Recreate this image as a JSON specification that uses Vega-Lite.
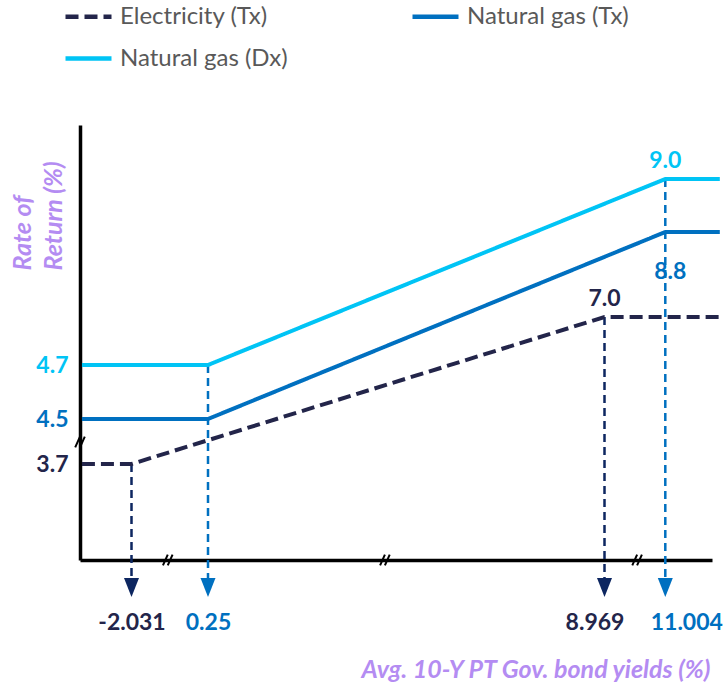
{
  "$schema": "https://vega.github.io/schema/vega-lite/v6.json",
  "width": 640,
  "height": 435,
  "autosize": {"type": "none"},
  "padding": {"left": 80, "top": 125, "right": 3, "bottom": 123},
  "background": "white",
  "datasets": {
    "lines": [
      {"series": "Electricity (Tx)", "x": -3.06, "y": 3.7, "o": 1},
      {"series": "Electricity (Tx)", "x": -2.031, "y": 3.7, "o": 2},
      {"series": "Electricity (Tx)", "x": 8.969, "y": 7.0, "o": 3},
      {"series": "Electricity (Tx)", "x": 12.05, "y": 7.0, "o": 4},
      {"series": "Natural gas (Tx)", "x": -3.06, "y": 4.5, "o": 1},
      {"series": "Natural gas (Tx)", "x": 0.25, "y": 4.5, "o": 2},
      {"series": "Natural gas (Tx)", "x": 11.004, "y": 8.8, "o": 3},
      {"series": "Natural gas (Tx)", "x": 12.05, "y": 8.8, "o": 4},
      {"series": "Natural gas (Dx)", "x": -3.06, "y": 4.7, "o": 1},
      {"series": "Natural gas (Dx)", "x": 0.25, "y": 4.7, "o": 2},
      {"series": "Natural gas (Dx)", "x": 11.004, "y": 9.0, "o": 3},
      {"series": "Natural gas (Dx)", "x": 12.05, "y": 9.0, "o": 4}
    ],
    "drops": [
      {"kind": "elec", "x": -2.031, "y": 3.7, "y2": 2.86, "tip": 2.8},
      {"kind": "gas", "x": 0.25, "y": 4.7, "y2": 2.86, "tip": 2.8},
      {"kind": "elec", "x": 8.969, "y": 7.0, "y2": 2.86, "tip": 2.8},
      {"kind": "gas", "x": 11.004, "y": 9.0, "y2": 2.86, "tip": 2.8}
    ],
    "labels": [
      {"series": "Natural gas (Dx)", "x": 11.004, "y": 9.0, "label": "9.0", "pos": "above"},
      {"series": "Electricity (Tx)", "x": 8.969, "y": 7.0, "label": "7.0", "pos": "above"},
      {"series": "Natural gas (Tx)", "x": 11.004, "y": 8.8, "label": "8.8", "pos": "below"}
    ],
    "breaks": [
      {"x": -0.95, "y": 3.0},
      {"x": 4.14, "y": 3.0},
      {"x": 10.06, "y": 3.0},
      {"x": -3.1, "y": 4.09}
    ]
  },
  "encoding": {
    "x": {
      "field": "x",
      "type": "quantitative",
      "scale": {
        "domain": [-3.1, -2.031, 0.25, 8.969, 11.004, 11.9],
        "range": [0, 51.5, 128, 524.5, 585.3, 632],
        "nice": false,
        "zero": false
      },
      "axis": {
        "values": [-2.031, 0.25, 8.969, 11.004],
        "labelExpr": "'' + datum.value",
        "labelOverlap": false,
        "labelBound": false,
        "grid": false,
        "ticks": false,
        "tickSize": 0,
        "domainColor": "black",
        "domainWidth": 3.5,
        "labelPadding": 51,
        "labelFont": "Lato",
        "labelFontSize": 23,
        "labelFontWeight": "bold",
        "labelOffset": {
          "condition": [
            {"test": "datum.value == 8.969", "value": -10},
            {"test": "datum.value == 11.004", "value": 21}
          ],
          "value": 0
        },
        "labelColor": {
          "condition": {"test": "datum.value == 0.25 || datum.value == 11.004", "value": "#0070c0"},
          "value": "#23254a"
        },
        "title": "Avg. 10-Y PT Gov. bond yields (%)",
        "titleFont": "Lato",
        "titleFontSize": 25,
        "titleFontWeight": "bold",
        "titleFontStyle": "italic",
        "titleColor": "#b48cf2",
        "titleX": 630,
        "titleY": 109,
        "titleAlign": "right",
        "titleBaseline": "middle"
      }
    },
    "y": {
      "field": "y",
      "type": "quantitative",
      "scale": {
        "domain": [3.0, 3.7, 4.5, 4.7, 7.0, 8.8, 9.0, 9.6],
        "range": [435, 339, 294, 240, 192, 107, 54, 0],
        "nice": false,
        "zero": false
      },
      "axis": {
        "values": [3.7, 4.5, 4.7],
        "labelExpr": "'' + datum.value",
        "labelOverlap": false,
        "grid": false,
        "ticks": false,
        "tickSize": 0,
        "domainColor": "black",
        "domainWidth": 3.5,
        "labelPadding": 12,
        "labelFont": "Lato",
        "labelFontSize": 23,
        "labelFontWeight": "bold",
        "labelColor": {
          "condition": [
            {"test": "datum.value == 4.7", "value": "#00c4f5"},
            {"test": "datum.value == 4.5", "value": "#0070c0"}
          ],
          "value": "#23254a"
        },
        "title": ["Rate of", "Return (%)"],
        "titleFont": "Lato",
        "titleFontSize": 25,
        "titleFontWeight": "bold",
        "titleFontStyle": "italic",
        "titleColor": "#b48cf2",
        "titleAngle": 270,
        "titleAlign": "left",
        "titleBaseline": "middle",
        "titleLineHeight": 31,
        "titleX": -58,
        "titleY": 145
      }
    }
  },
  "layer": [
    {
      "data": {"name": "drops"},
      "transform": [{"filter": "datum.kind == 'elec'"}],
      "mark": {"type": "rule", "color": "#0d2660", "strokeWidth": 2.5, "strokeDash": [8, 5]},
      "encoding": {"y2": {"field": "y2"}}
    },
    {
      "data": {"name": "drops"},
      "transform": [{"filter": "datum.kind == 'gas'"}],
      "mark": {"type": "rule", "color": "#0070c0", "strokeWidth": 2.5, "strokeDash": [8, 5]},
      "encoding": {"y2": {"field": "y2"}}
    },
    {
      "data": {"name": "drops"},
      "transform": [{"filter": "datum.kind == 'elec'"}],
      "mark": {"type": "point", "shape": "M-1,-1.27L1,-1.27L0,1.27Z", "filled": true, "color": "#0d2660", "size": 225, "opacity": 1},
      "encoding": {"y": {"field": "tip", "type": "quantitative"}}
    },
    {
      "data": {"name": "drops"},
      "transform": [{"filter": "datum.kind == 'gas'"}],
      "mark": {"type": "point", "shape": "M-1,-1.27L1,-1.27L0,1.27Z", "filled": true, "color": "#0070c0", "size": 225, "opacity": 1},
      "encoding": {"y": {"field": "tip", "type": "quantitative"}}
    },
    {
      "data": {"name": "lines"},
      "mark": {"type": "line", "strokeWidth": 4, "strokeCap": "butt"},
      "encoding": {
        "order": {"field": "o"},
        "color": {
          "field": "series",
          "type": "nominal",
          "scale": {
            "domain": ["Electricity (Tx)", "Natural gas (Tx)", "Natural gas (Dx)"],
            "range": ["#23254a", "#0070c0", "#00c4f5"]
          },
          "legend": {
            "title": null,
            "orient": "none",
            "direction": "horizontal",
            "legendX": -17,
            "legendY": -134,
            "columns": 2,
            "columnPadding": 115,
            "rowPadding": 4,
            "symbolType": "stroke",
            "symbolSize": 2116,
            "symbolStrokeWidth": 4.5,
            "labelOffset": 6,
            "labelFont": "Lato",
            "labelFontSize": 24,
            "labelColor": "#595959",
            "labelLimit": 400,
            "encode": {
              "symbols": {
                "update": {
                  "strokeDash": {"signal": "datum.value == 'Electricity (Tx)' ? [12, 5] : [1, 0]"}
                }
              }
            }
          }
        },
        "strokeDash": {
          "field": "series",
          "type": "nominal",
          "scale": {
            "domain": ["Electricity (Tx)", "Natural gas (Tx)", "Natural gas (Dx)"],
            "range": [[13, 6], [1, 0], [1, 0]]
          },
          "legend": null
        }
      }
    },
    {
      "data": {"name": "labels"},
      "transform": [{"filter": "datum.pos == 'above'"}],
      "mark": {"type": "text", "font": "Lato", "fontSize": 23, "fontWeight": "bold", "dy": -18, "baseline": "middle", "align": "center"},
      "encoding": {
        "text": {"field": "label"},
        "color": {"field": "series", "type": "nominal", "legend": null}
      }
    },
    {
      "data": {"name": "labels"},
      "transform": [{"filter": "datum.pos == 'below'"}],
      "mark": {"type": "text", "font": "Lato", "fontSize": 23, "fontWeight": "bold", "dy": 40, "dx": 5, "baseline": "middle", "align": "center"},
      "encoding": {
        "text": {"field": "label"},
        "color": {"field": "series", "type": "nominal", "legend": null}
      }
    },
    {
      "data": {"name": "breaks"},
      "mark": {"type": "point", "shape": "M-0.8,0.9L0,-0.9M0,0.9L0.8,-0.9", "filled": false, "color": "black", "strokeWidth": 2, "size": 144, "opacity": 1}
    }
  ],
  "config": {
    "view": {"stroke": null}
  }
}
